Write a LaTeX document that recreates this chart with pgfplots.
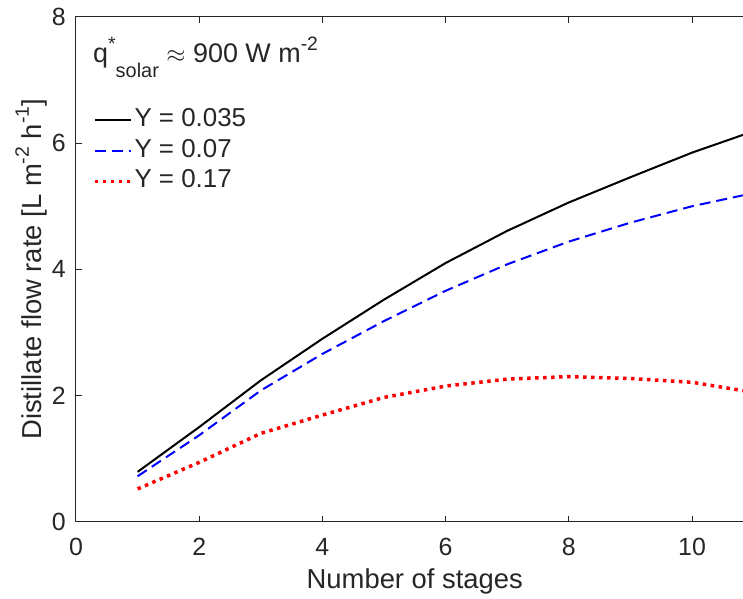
\documentclass[border=0pt]{standalone}
\usepackage{pgfplots}
\pgfplotsset{compat=1.18}
\usepackage{fontspec}
\setmainfont{Liberation Sans}
\definecolor{axgray}{gray}{0.15}
\newcommand{\sups}[1]{\raisebox{0.48em}{\fontsize{19.5}{19}\selectfont #1}}
\newcommand{\subs}[1]{\raisebox{-0.55em}{\fontsize{20}{20}\selectfont #1}}
\begin{document}
\begin{tikzpicture}
\path[use as bounding box] (-76bp,-77.3bp) rectangle (667bp,521.7bp);
\clip (-76bp,-77.3bp) rectangle (667bp,521.7bp);
\begin{axis}[
  at={(0,0)}, anchor=south west,
  scale only axis, width=677.6bp, height=504.7bp,
  xmin=0, xmax=11, ymin=0, ymax=8,
  xtick={0,2,...,10}, ytick={0,2,...,8},
  tick align=inside, major tick length=6bp,
  axis line style={axgray, line width=1bp},
  every tick/.style={axgray, line width=1bp},
  /pgf/number format/assume math mode=true,
  ticklabel style={font=\fontsize{25}{30}\selectfont, text=axgray},
  xticklabel style={anchor=north, inner sep=0pt, yshift=-16bp},
  yticklabel style={anchor=east, inner sep=0pt, xshift=-10bp},
  xlabel={Number of stages},
  xlabel style={at={(axis description cs:0.5,-0.1328)}, anchor=base, inner sep=0pt, font=\fontsize{27.5}{30}\selectfont, text=axgray},
  ylabel={Distillate flow rate [L m\sups{-2} h\sups{-1}]},
  ylabel style={at={(axis description cs:-0.0502,0.5)}, anchor=base, inner sep=0pt, font=\fontsize{27.5}{30}\selectfont, text=axgray},
  legend style={at={(axis description cs:0.0251,0.8197)}, anchor=north west, draw=none, fill=none, inner sep=0pt, outer sep=0pt, row sep=5.5bp, column sep=2bp, font=\fontsize{26}{30}\selectfont, text=axgray, nodes={inner sep=0pt, text height=19bp, text depth=6bp, anchor=west}},
  legend cell align=left,
  legend image code/.code={\draw[#1] (0bp,0bp) -- (36bp,0bp);},
]
\addplot[black, line width=2bp] coordinates {
(1,0.79) (2,1.50) (3,2.24) (4,2.90) (5,3.52) (6,4.10) (7,4.61) (8,5.06) (9,5.46) (10,5.85) (11,6.19)};
\addlegendentry{Y = 0.035}
\addplot[blue, line width=2bp, dash pattern=on 11bp off 6bp] coordinates {
(1,0.72) (2,1.37) (3,2.08) (4,2.66) (5,3.18) (6,3.66) (7,4.08) (8,4.44) (9,4.74) (10,5.00) (11,5.21)};
\addlegendentry{Y = 0.07}
\addplot[red, line width=3.5bp, dash pattern=on 3.5bp off 4.5bp] coordinates {
(1,0.52) (2,0.94) (3,1.40) (4,1.69) (5,1.97) (6,2.15) (7,2.26) (8,2.30) (9,2.27) (10,2.21) (11,2.05)};
\addlegendentry{Y = 0.17}
\node[anchor=base west, inner sep=0pt, font=\fontsize{27}{30}\selectfont, text=axgray] at (axis description cs:0.0251,0.9089) {q\sups{*}\subs{solar} $\approx$ 900 W m\sups{-2}};
\end{axis}
\end{tikzpicture}
\end{document}
